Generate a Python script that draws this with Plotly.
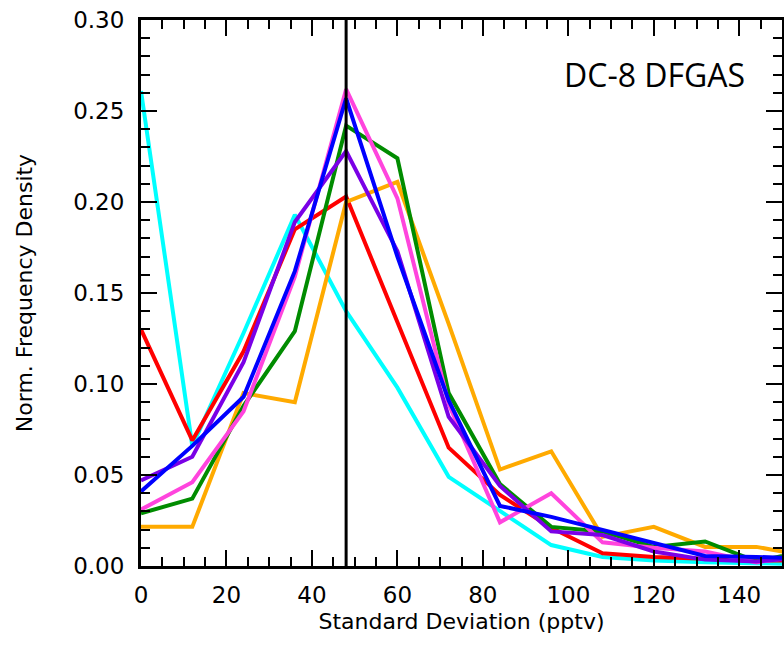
import plotly.graph_objects as go

# Bin centres (pptv)
std_dev = [0, 12, 24, 36, 48, 60, 72, 84, 96, 108, 120, 132, 144, 156]

cyan_vals   = [0.261, 0.066, 0.128, 0.193, 0.140, 0.098, 0.049, 0.030, 0.0115, 0.005, 0.003, 0.002, 0.0015, 0.001]
red_vals    = [0.130, 0.069, 0.118, 0.185, 0.203, 0.134, 0.065, 0.039, 0.021, 0.007, 0.005, 0.004, 0.003, 0.003]
orange_vals = [0.0215, 0.0215, 0.095, 0.090, 0.200, 0.211, 0.133, 0.053, 0.063, 0.016, 0.0215, 0.0105, 0.0105, 0.0055]
green_vals  = [0.029, 0.037, 0.088, 0.129, 0.242, 0.224, 0.095, 0.045, 0.0215, 0.019, 0.0105, 0.0135, 0.0025, 0.0085]
pink_vals   = [0.031, 0.046, 0.085, 0.159, 0.262, 0.202, 0.089, 0.024, 0.040, 0.013, 0.010, 0.008, 0.002, 0.006]
purple_vals = [0.047, 0.060, 0.112, 0.189, 0.228, 0.173, 0.082, 0.044, 0.019, 0.017, 0.008, 0.0035, 0.0025, 0.005]
blue_vals   = [0.041, 0.066, 0.093, 0.162, 0.257, 0.170, 0.091, 0.033, 0.027, 0.020, 0.0125, 0.0055, 0.005, 0.004]

ref_line_x = 48
y_range = [0, 0.30]
x_range = [0, 150]

series = [
    (cyan_vals, "#00FFFF"),
    (red_vals, "#FF0000"),
    (orange_vals, "#FFAA00"),
    (green_vals, "#008C00"),
    (pink_vals, "#FF44DD"),
    (purple_vals, "#7A00E6"),
    (blue_vals, "#0000FF"),
]

fig = go.Figure()
for vals, col in series:
    fig.add_trace(go.Scatter(x=std_dev, y=vals, mode="lines",
                             line=dict(color=col, width=4), showlegend=False))

fig.add_trace(go.Scatter(x=[ref_line_x, ref_line_x], y=y_range, mode="lines",
                         line=dict(color="black", width=3), showlegend=False))

tick_font = dict(family="DejaVu Sans", size=23, color="black")
title_font = dict(family="DejaVu Sans", size=22, color="black")

fig.update_layout(
    width=784, height=663,
    margin=dict(l=141, r=2, t=20, b=97, autoexpand=False),
    paper_bgcolor="white", plot_bgcolor="white",
    font=dict(family="DejaVu Sans", color="black"),
    xaxis=dict(
        range=x_range, dtick=20, tick0=0, ticks="inside", ticklen=16, tickwidth=2,
        tickcolor="black", showline=True, linecolor="black", linewidth=3,
        mirror="allticks", showgrid=False, zeroline=False, tickfont=tick_font,
        ticklabelstandoff=6, automargin=False, ticklabeloverflow="allow",
        minor=dict(dtick=5, ticks="inside", ticklen=9, tickwidth=2, tickcolor="black", showgrid=False),
        title=dict(text="Standard Deviation (pptv)", font=title_font, standoff=8),
    ),
    yaxis=dict(
        range=y_range, dtick=0.05, tick0=0, tickformat=".2f", ticks="inside", ticklen=16, tickwidth=2,
        tickcolor="black", showline=True, linecolor="black", linewidth=3,
        mirror="allticks", showgrid=False, zeroline=False, tickfont=tick_font,
        ticklabelstandoff=9, automargin=False, ticklabeloverflow="allow",
        minor=dict(dtick=0.01, ticks="inside", ticklen=9, tickwidth=2, tickcolor="black", showgrid=False),
        title=dict(text="Norm. Frequency Density", font=title_font, standoff=35),
    ),
    annotations=[dict(text="DC-8 DFGAS", x=0.945, y=0.9, xref="paper", yref="paper",
                      xanchor="right", yanchor="middle", showarrow=False,
                      font=dict(family="Open Sans", size=32, color="black"))],
)

# remove the default page margin so the figure sits at the window origin
fig.write_html("out.html", config={"displayModeBar": False},
               post_script="document.body.style.margin='0px';document.body.style.overflow='hidden';")
